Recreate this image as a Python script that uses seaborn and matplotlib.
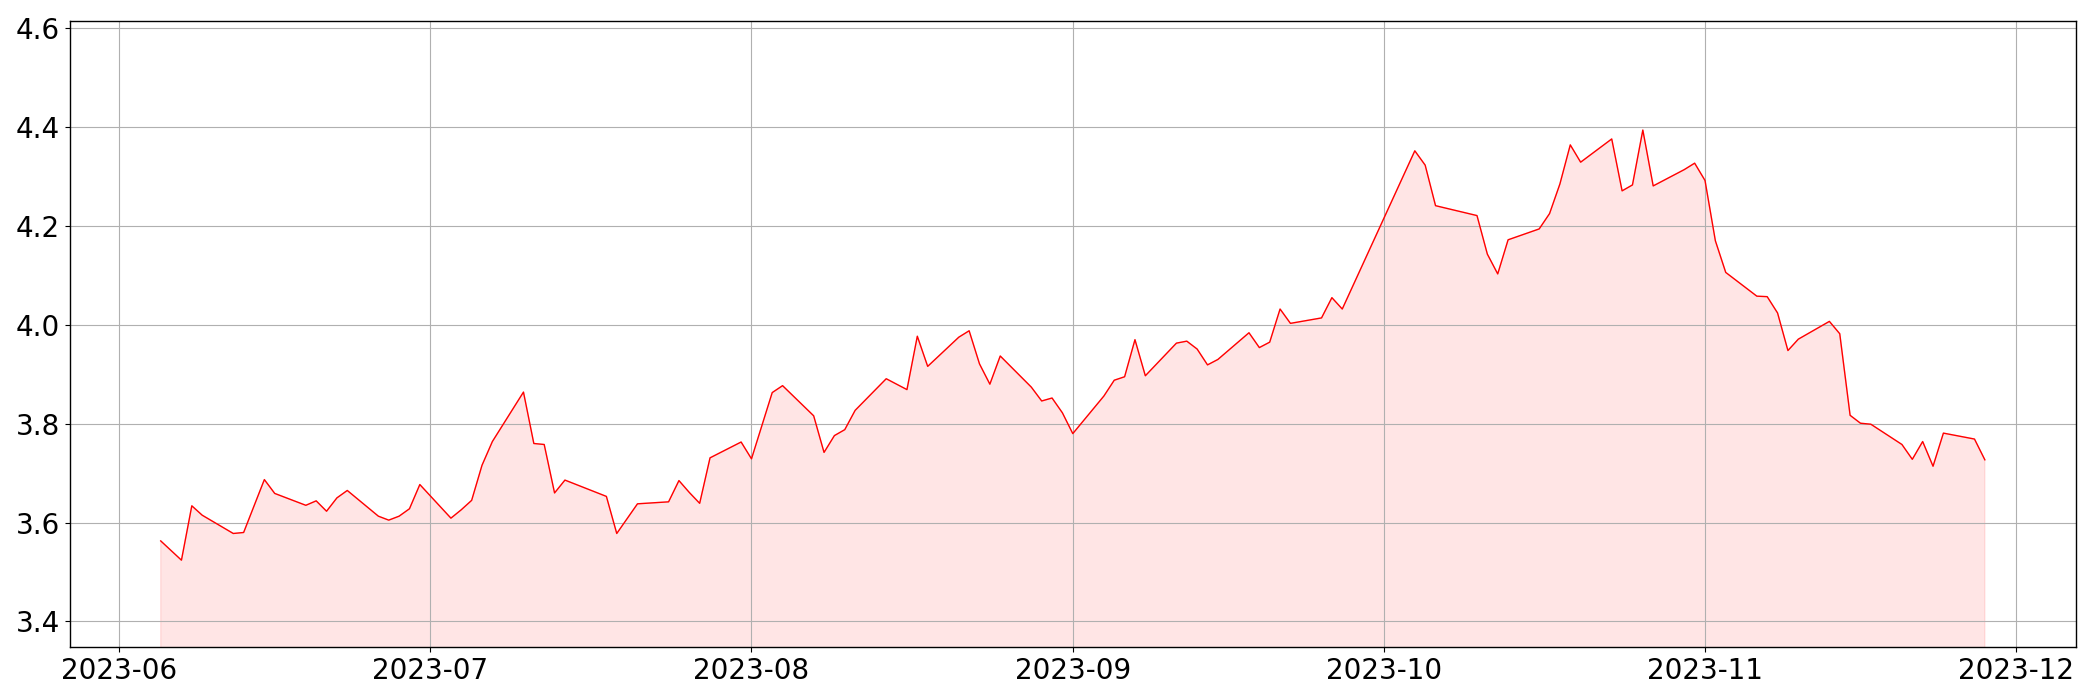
import matplotlib
matplotlib.use("Agg")
import matplotlib.pyplot as plt
import matplotlib.dates as mdates
import seaborn as sns
import pandas as pd

dates = [
    "2023-06-05", "2023-06-07", "2023-06-08", "2023-06-09", "2023-06-12", "2023-06-13",
    "2023-06-15", "2023-06-16", "2023-06-19", "2023-06-20", "2023-06-21", "2023-06-22",
    "2023-06-23", "2023-06-26", "2023-06-27", "2023-06-28", "2023-06-29", "2023-06-30",
    "2023-07-03", "2023-07-04", "2023-07-05", "2023-07-06", "2023-07-07", "2023-07-10",
    "2023-07-11", "2023-07-12", "2023-07-13", "2023-07-14", "2023-07-18", "2023-07-19",
    "2023-07-21", "2023-07-24", "2023-07-25", "2023-07-26", "2023-07-27", "2023-07-28",
    "2023-07-31", "2023-08-01", "2023-08-03", "2023-08-04", "2023-08-07", "2023-08-08",
    "2023-08-09", "2023-08-10", "2023-08-11", "2023-08-14", "2023-08-16", "2023-08-17",
    "2023-08-18", "2023-08-21", "2023-08-22", "2023-08-23", "2023-08-24", "2023-08-25",
    "2023-08-28", "2023-08-29", "2023-08-30", "2023-08-31", "2023-09-01", "2023-09-04",
    "2023-09-05", "2023-09-06", "2023-09-07", "2023-09-08", "2023-09-11", "2023-09-12",
    "2023-09-13", "2023-09-14", "2023-09-15", "2023-09-18", "2023-09-19", "2023-09-20",
    "2023-09-21", "2023-09-22", "2023-09-25", "2023-09-26", "2023-09-27", "2023-10-04",
    "2023-10-05", "2023-10-06", "2023-10-10", "2023-10-11", "2023-10-12", "2023-10-13",
    "2023-10-16", "2023-10-17", "2023-10-18", "2023-10-19", "2023-10-20", "2023-10-23",
    "2023-10-24", "2023-10-25", "2023-10-26", "2023-10-27", "2023-10-30", "2023-10-31",
    "2023-11-01", "2023-11-02", "2023-11-03", "2023-11-06", "2023-11-07", "2023-11-08",
    "2023-11-09", "2023-11-10", "2023-11-13", "2023-11-14", "2023-11-15", "2023-11-16",
    "2023-11-17", "2023-11-20", "2023-11-21", "2023-11-22", "2023-11-23", "2023-11-24",
    "2023-11-27", "2023-11-28",
]

values = [
    3.563, 3.524, 3.634, 3.615, 3.578, 3.580,
    3.687, 3.659, 3.635, 3.644, 3.623, 3.650,
    3.665, 3.613, 3.605, 3.613, 3.628, 3.677,
    3.609, 3.626, 3.645, 3.716, 3.764, 3.864,
    3.760, 3.758, 3.660, 3.686, 3.653, 3.578,
    3.638, 3.642, 3.685, 3.661, 3.639, 3.731,
    3.763, 3.729, 3.863, 3.877, 3.816, 3.742,
    3.776, 3.788, 3.827, 3.891, 3.869, 3.977,
    3.916, 3.975, 3.988, 3.921, 3.880, 3.937,
    3.874, 3.846, 3.852, 3.822, 3.780, 3.856,
    3.888, 3.895, 3.970, 3.897, 3.963, 3.967,
    3.951, 3.919, 3.930, 3.984, 3.954, 3.965,
    4.032, 4.003, 4.014, 4.055, 4.032, 4.352,
    4.323, 4.241, 4.221, 4.143, 4.103, 4.172,
    4.194, 4.225, 4.285, 4.364, 4.329, 4.376,
    4.271, 4.283, 4.394, 4.281, 4.314, 4.327,
    4.292, 4.170, 4.106, 4.058, 4.057, 4.024,
    3.948, 3.971, 4.007, 3.982, 3.817, 3.801,
    3.799, 3.758, 3.728, 3.764, 3.714, 3.781,
    3.769, 3.727,
]

df = pd.DataFrame({"date": pd.to_datetime(dates), "value": values})

fig, ax = plt.subplots(figsize=(21, 7), dpi=100)
sns.lineplot(data=df, x="date", y="value", color="red", linewidth=1.0, ax=ax)
ax.fill_between(df["date"], df["value"], color="red", alpha=0.1)

ax.set_ylim(min(values) * 0.95, max(values) * 1.05)
ax.xaxis.set_major_locator(mdates.MonthLocator())
ax.xaxis.set_major_formatter(mdates.DateFormatter("%Y-%m"))
ax.grid(True, color="#b0b0b0", linewidth=0.8)
ax.set_xlabel("")
ax.set_ylabel("")
ax.tick_params(axis="both", labelsize=20)
for s in ax.spines.values():
    s.set_color("black")
    s.set_linewidth(1.0)

fig.subplots_adjust(left=0.0331, right=0.9886, top=0.9694, bottom=0.0753)
fig.savefig("out.png", dpi=100)
